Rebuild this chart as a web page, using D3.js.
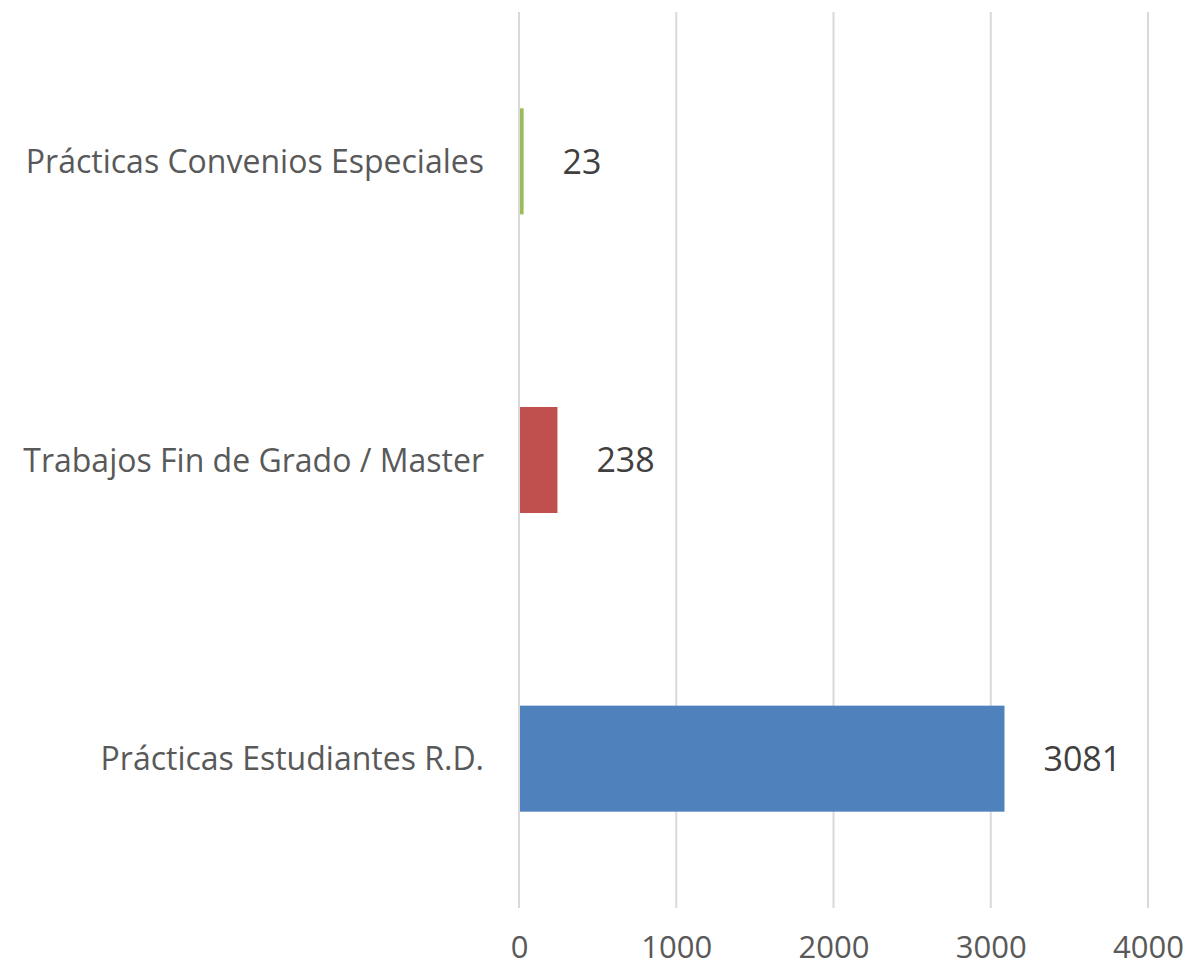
<!DOCTYPE html>
<html>
<head>
<meta charset="utf-8">
<script src="https://d3js.org/d3.v7.min.js"></script>
<style>
  body { margin: 0; background: #fff; }
  text { font-family: "Open Sans", sans-serif; }
</style>
</head>
<body>
<div class="diagram"></div>
<script>
var categories = ["Prácticas Convenios Especiales", "Trabajos Fin de Grado / Master", "Prácticas Estudiantes R.D."];
var values = [23, 238, 3081];
var colors = ["#9bbb59", "#c0504d", "#4f81bd"];
var tickValues = [0, 1000, 2000, 3000, 4000];

var width = 1189, height = 970, margin = {top: 12, right: 41, bottom: 62, left: 519};

var svg = d3.select('.diagram')
  .append('svg')
  .attr('width', width)
  .attr('height', height)
  .append('g')
  .attr('transform', 'translate(' + margin.left + ',' + margin.top + ')');

var w = width - margin.left - margin.right,
    h = height - margin.top - margin.bottom;

var x = d3.scaleLinear().domain([0, 4000]).range([0, 629]);
var y = d3.scaleBand().domain(categories).range([0, h]).paddingInner(0.645).paddingOuter(0.3225);

// gridlines
svg.selectAll('.grid')
  .data(tickValues)
  .enter()
  .append('line')
  .attr('class', 'grid')
  .attr('x1', function(d) { return x(d); })
  .attr('x2', function(d) { return x(d); })
  .attr('y1', 0)
  .attr('y2', h)
  .attr('stroke', '#d9d9d9')
  .attr('stroke-width', 2);

// bars
svg.selectAll('.bar')
  .data(values)
  .enter()
  .append('rect')
  .attr('class', 'bar')
  .attr('x', x(0) + 1)
  .attr('y', function(d, i) { return y(categories[i]); })
  .attr('width', function(d) { return x(d) - x(0); })
  .attr('height', y.bandwidth())
  .attr('fill', function(d, i) { return colors[i]; });

// value labels
svg.selectAll('.val')
  .data(values)
  .enter()
  .append('text')
  .attr('class', 'val')
  .attr('x', function(d) { return x(d) + 40; })
  .attr('y', function(d, i) { return y(categories[i]) + y.bandwidth() / 2; })
  .attr('dy', '0.36em')
  .attr('fill', '#404040')
  .style('font-size', '34px')
  .text(function(d) { return d; });

// category labels
var yAxis = svg.append('g')
  .attr('class', 'axis axis--y')
  .call(d3.axisLeft(y).tickSize(0).tickPadding(35));
yAxis.select('.domain').remove();
yAxis.selectAll('text')
  .attr('fill', '#595959')
  .attr('dy', '0.36em')
  .style('font-family', '"Open Sans", sans-serif')
  .style('font-size', '32px');

// x axis
var xAxis = svg.append('g')
  .attr('class', 'axis axis--x')
  .attr('transform', 'translate(0,' + h + ')')
  .call(d3.axisBottom(x).tickValues(tickValues).tickSize(0).tickPadding(28).tickFormat(d3.format('d')));
xAxis.select('.domain').remove();
xAxis.selectAll('text')
  .attr('fill', '#595959')
  .style('font-family', '"Open Sans", sans-serif')
  .style('font-size', '31px');
</script>
</body>
</html>
